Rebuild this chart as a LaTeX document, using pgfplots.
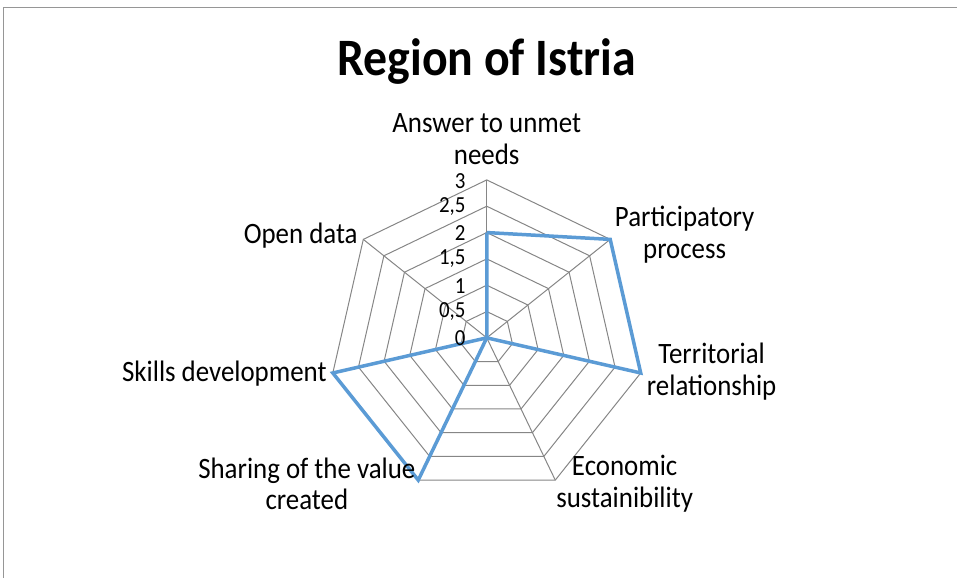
\documentclass[border=0pt]{standalone}
\usepackage{pgfplots}
\pgfplotsset{compat=1.18}
\usepackage{fontspec}
\setmainfont{Carlito}
\definecolor{serblue}{RGB}{91,155,213}
\definecolor{gridgray}{RGB}{134,134,134}
\definecolor{framegray}{RGB}{150,150,150}
\begin{document}
\begin{tikzpicture}
\begin{axis}[
  at={(0,0)}, anchor=south west,
  x=52.667bp, y=52.667bp,
  xmin=-9.247, xmax=8.924, ymin=-4.557, ymax=6.418,
  hide axis, clip=false,
]
\path (rel axis cs:0,0) (rel axis cs:1,1);
% grid polygons
\pgfplotsinvokeforeach{0.5,1,1.5,2,2.5,3}{
  \addplot[data cs=polar, gridgray, line width=1bp, no marks]
    coordinates {(90,#1) (38.571,#1) (-12.857,#1) (-64.286,#1) (-115.714,#1) (-167.143,#1) (141.429,#1) (90,#1)};
}
% spokes
\pgfplotsinvokeforeach{90,38.571,-12.857,-64.286,-115.714,-167.143,141.429}{
  \addplot[data cs=polar, gridgray, line width=1bp, no marks]
    coordinates {(#1,0) (#1,3)};
}
% data
\addplot[data cs=polar, serblue, line width=3.5bp, no marks, line join=miter]
  coordinates {(90,2) (38.571,3) (-12.857,3) (-64.286,0) (-115.714,3) (-167.143,3) (141.429,0) (90,2)};
\end{axis}
\begin{scope}[x=1bp,y=-1bp,shift={(0bp,578bp)}]
\draw[framegray, line width=1bp] (4,578) -- (4,7) -- (957,7);
\node[font=\fontsize{48}{56}\selectfont\bfseries, anchor=base, yscale=1.1] at (487,76) {Region of Istria};
\begin{scope}[font=\fontsize{27}{29}\selectfont]
\node[align=center, anchor=center, yscale=1.1] at (487,139) {Answer to unmet\\needs};
\node[align=center, anchor=center, yscale=1.1] at (685,235) {Participatory\\process};
\node[align=center, anchor=center, yscale=1.1] at (712,372) {Territorial\\relationship};
\node[align=center, anchor=center, yscale=1.1] at (625,484) {Economic\\sustainibility};
\node[align=center, anchor=center, yscale=1.1] at (307,484) {Sharing of the value\\created};
\node[anchor=east, inner sep=1bp, yscale=1.1] at (328,374) {Skills development};
\node[anchor=east, inner sep=1bp, yscale=1.1] at (359,236) {Open data};
\end{scope}
\begin{scope}[font=\fontsize{21}{25}\selectfont]
\node[anchor=east, inner sep=1bp, yscale=1.1] at (467,181) {3};
\node[anchor=east, inner sep=1bp, yscale=1.1] at (467,207) {2,5};
\node[anchor=east, inner sep=1bp, yscale=1.1] at (467,233) {2};
\node[anchor=east, inner sep=1bp, yscale=1.1] at (467,259) {1,5};
\node[anchor=east, inner sep=1bp, yscale=1.1] at (467,286) {1};
\node[anchor=east, inner sep=1bp, yscale=1.1] at (467,312) {0,5};
\node[anchor=east, inner sep=1bp, yscale=1.1] at (467,338) {0};
\end{scope}
\end{scope}
\end{tikzpicture}
\end{document}
